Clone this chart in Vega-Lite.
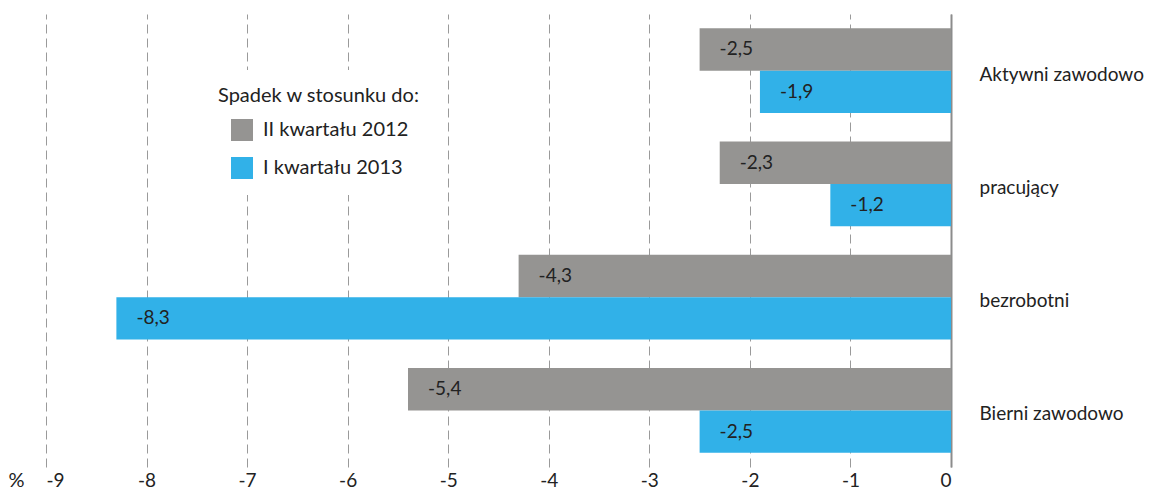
{
  "$schema": "https://vega.github.io/schema/vega-lite/v6.json",
  "width": 905,
  "height": 453,
  "autosize": {"type": "none"},
  "padding": {"left": 46, "top": 14, "right": 199, "bottom": 22},
  "config": {
    "font": "Lato",
    "view": {"stroke": null},
    "locale": {"number": {"decimal": ",", "thousands": " ", "grouping": [3], "currency": ["", " zł"], "minus": "-"}}
  },
  "data": {
    "values": [
      {"kategoria": "Aktywni zawodowo", "okres": "II kwartału 2012", "wartosc": -2.5},
      {"kategoria": "Aktywni zawodowo", "okres": "I kwartału 2013", "wartosc": -1.9},
      {"kategoria": "pracujący", "okres": "II kwartału 2012", "wartosc": -2.3},
      {"kategoria": "pracujący", "okres": "I kwartału 2013", "wartosc": -1.2},
      {"kategoria": "bezrobotni", "okres": "II kwartału 2012", "wartosc": -4.3},
      {"kategoria": "bezrobotni", "okres": "I kwartału 2013", "wartosc": -8.3},
      {"kategoria": "Bierni zawodowo", "okres": "II kwartału 2012", "wartosc": -5.4},
      {"kategoria": "Bierni zawodowo", "okres": "I kwartału 2013", "wartosc": -2.5}
    ]
  },
  "encoding": {
    "y": {
      "field": "kategoria", "type": "nominal", "sort": null,
      "scale": {"paddingInner": 0.25, "paddingOuter": 0.125},
      "axis": {
        "orient": "right", "title": null, "ticks": false,
        "domainColor": "#8c8c8c", "domainWidth": 2,
        "labelPadding": 28, "labelAlign": "left", "labelFontSize": 19, "labelLimit": 300,
        "labelColor": "#222222", "labelOffset": 4, "labelFont": "Lato"
      }
    },
    "yOffset": {
      "field": "okres", "type": "nominal",
      "sort": ["II kwartału 2012", "I kwartału 2013"],
      "scale": {"paddingInner": 0, "paddingOuter": 0}
    },
    "x": {
      "field": "wartosc", "type": "quantitative",
      "scale": {"domain": [-9, 0], "nice": false},
      "axis": {
        "values": [-9, -8, -7, -6, -5, -4, -3, -2, -1, 0],
        "format": "d", "domain": false, "ticks": false,
        "grid": true, "gridDash": [9, 5], "gridColor": "#9a9a9a", "gridWidth": 1,
        "labelFontSize": 19, "labelColor": "#222222", "labelPadding": 4,
        "title": "%", "titleFontSize": 20, "titleFontWeight": "normal", "titleColor": "#222222",
        "titleX": -30, "titleY": 13, "titleAlign": "center", "titleBaseline": "middle",
        "zindex": 0
      }
    }
  },
  "layer": [
    {
      "mark": {"type": "bar"},
      "encoding": {
        "color": {
          "field": "okres", "type": "nominal",
          "scale": {"domain": ["II kwartału 2012", "I kwartału 2013"], "range": ["#959492", "#31b1e8"]},
          "legend": {
            "title": "Spadek w stosunku do:",
            "orient": "none", "legendX": 156, "legendY": 56,
            "fillColor": "white", "padding": 16,
            "titleFontSize": 20, "titleFontWeight": "normal", "titleColor": "#222222", "titlePadding": 13, "titleLimit": 400,
            "labelFontSize": 20, "labelColor": "#222222", "labelOffset": 10, "labelLimit": 300,
            "symbolType": "square", "symbolSize": 484, "symbolStrokeWidth": 0, "symbolOpacity": 1,
            "symbolOffset": 13, "rowPadding": 16
          }
        }
      }
    },
    {
      "mark": {"type": "text", "align": "left", "dx": 20, "fontSize": 19, "color": "#222222", "baseline": "middle"},
      "encoding": {
        "text": {"field": "wartosc", "type": "quantitative", "format": ".1f"}
      }
    }
  ]
}
